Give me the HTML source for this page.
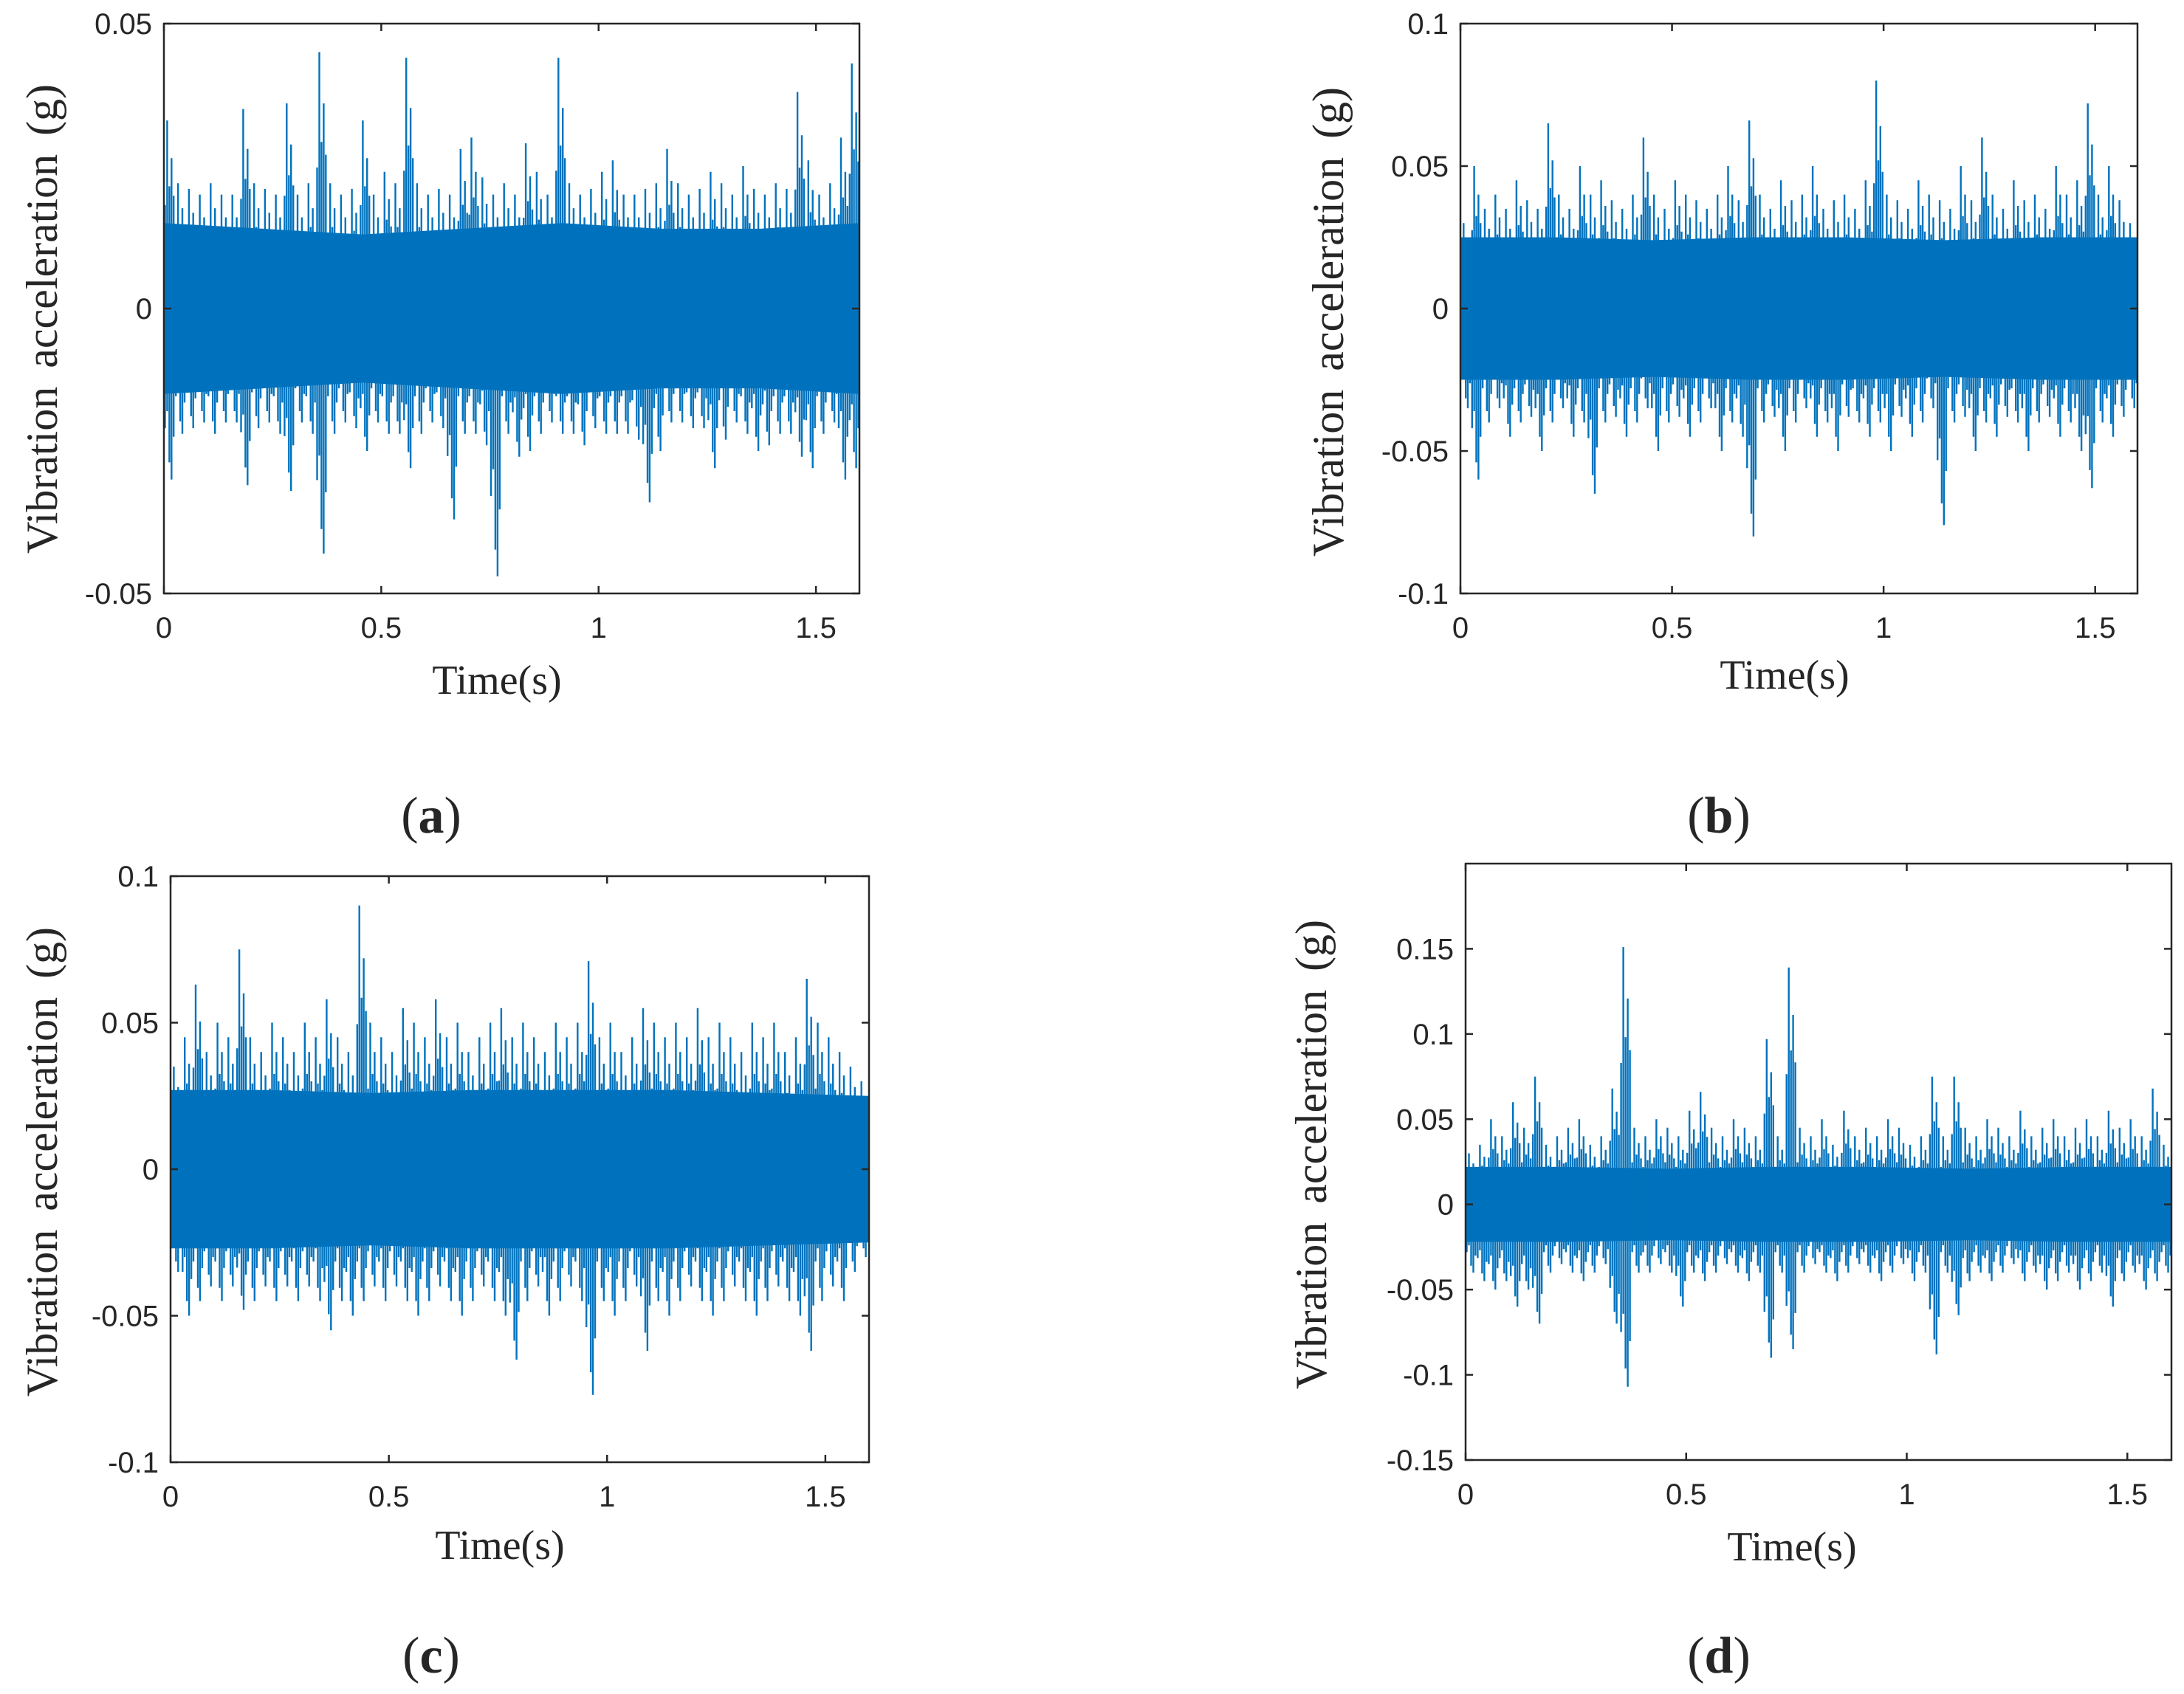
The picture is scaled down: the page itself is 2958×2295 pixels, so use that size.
<!DOCTYPE html>
<html><head><meta charset="utf-8"><style>
body{margin:0;background:#fff}
svg{display:block}
text{fill:#262626}
</style></head><body>
<svg id="fig" width="2958" height="2295" viewBox="0 0 2958 2295" xmlns="http://www.w3.org/2000/svg"></svg>
<script>
const NS="http://www.w3.org/2000/svg";
const svg=document.getElementById('fig');
const xTicks=[0,0.5,1,1.5];
const xTickLabels=["0","0.5","1","1.5"];
const binWidth=0.025;
const aHi=[0.033,0.022,0.021,0.02,0.022,0.02,0.02,0.035,0.022,0.021,0.02,0.036,0.02,0.022,0.045,0.022,0.02,0.021,0.033,0.02,0.024,0.022,0.044,0.022,0.02,0.021,0.02,0.028,0.03,0.023,0.02,0.022,0.02,0.029,0.024,0.02,0.044,0.022,0.02,0.021,0.024,0.026,0.02,0.02,0.021,0.022,0.028,0.022,0.02,0.021,0.024,0.022,0.02,0.025,0.021,0.02,0.022,0.021,0.038,0.026,0.02,0.022,0.03,0.043];
const aLo=[-0.03,-0.022,-0.021,-0.02,-0.022,-0.02,-0.02,-0.031,-0.021,-0.02,-0.022,-0.032,-0.02,-0.022,-0.043,-0.022,-0.02,-0.021,-0.025,-0.02,-0.022,-0.022,-0.028,-0.022,-0.02,-0.021,-0.037,-0.022,-0.022,-0.024,-0.047,-0.022,-0.026,-0.025,-0.022,-0.02,-0.022,-0.022,-0.024,-0.021,-0.022,-0.022,-0.022,-0.023,-0.034,-0.025,-0.02,-0.02,-0.021,-0.021,-0.028,-0.023,-0.02,-0.022,-0.025,-0.024,-0.022,-0.022,-0.026,-0.028,-0.022,-0.02,-0.03,-0.028];
const aCore=[0.015,0.014,0.013,0.014,0.015,0.014,0.014,0.015];
const bHi=[0.03,0.05,0.035,0.04,0.035,0.045,0.038,0.035,0.065,0.04,0.035,0.05,0.04,0.045,0.038,0.035,0.04,0.06,0.04,0.035,0.045,0.04,0.038,0.035,0.04,0.05,0.038,0.066,0.04,0.035,0.045,0.038,0.04,0.05,0.035,0.038,0.04,0.035,0.045,0.08,0.04,0.038,0.035,0.045,0.04,0.038,0.035,0.05,0.038,0.06,0.04,0.035,0.045,0.038,0.04,0.035,0.05,0.04,0.045,0.072,0.04,0.05,0.038,0.03];
const bLo=[-0.035,-0.06,-0.04,-0.035,-0.045,-0.04,-0.038,-0.05,-0.04,-0.035,-0.045,-0.04,-0.065,-0.04,-0.038,-0.045,-0.04,-0.035,-0.05,-0.04,-0.038,-0.045,-0.04,-0.035,-0.05,-0.04,-0.045,-0.08,-0.04,-0.038,-0.05,-0.04,-0.035,-0.045,-0.04,-0.05,-0.038,-0.04,-0.045,-0.04,-0.05,-0.038,-0.045,-0.04,-0.035,-0.076,-0.04,-0.038,-0.05,-0.04,-0.045,-0.038,-0.04,-0.05,-0.04,-0.038,-0.045,-0.04,-0.05,-0.063,-0.04,-0.045,-0.038,-0.035];
const bCore=[0.025,0.025,0.024,0.025,0.025,0.024,0.025,0.025];
const cHi=[0.035,0.045,0.063,0.04,0.05,0.045,0.075,0.045,0.04,0.05,0.045,0.04,0.05,0.045,0.058,0.045,0.04,0.09,0.05,0.045,0.04,0.055,0.05,0.045,0.058,0.045,0.05,0.04,0.045,0.05,0.055,0.045,0.05,0.045,0.04,0.05,0.045,0.05,0.071,0.045,0.05,0.04,0.045,0.055,0.05,0.045,0.05,0.045,0.055,0.045,0.05,0.045,0.04,0.05,0.045,0.05,0.04,0.045,0.065,0.05,0.045,0.04,0.035,0.03];
const cLo=[-0.035,-0.05,-0.045,-0.04,-0.045,-0.04,-0.048,-0.045,-0.04,-0.045,-0.04,-0.045,-0.04,-0.045,-0.055,-0.045,-0.05,-0.045,-0.04,-0.045,-0.04,-0.045,-0.05,-0.045,-0.04,-0.045,-0.05,-0.045,-0.04,-0.045,-0.05,-0.065,-0.045,-0.04,-0.05,-0.045,-0.04,-0.045,-0.077,-0.045,-0.05,-0.045,-0.04,-0.062,-0.045,-0.05,-0.045,-0.04,-0.045,-0.05,-0.045,-0.04,-0.045,-0.05,-0.045,-0.04,-0.045,-0.05,-0.062,-0.045,-0.04,-0.045,-0.035,-0.03];
const cCore=[0.027,0.027,0.026,0.027,0.027,0.027,0.026,0.025];
const dHi=[0.03,0.035,0.05,0.04,0.06,0.045,0.075,0.035,0.04,0.045,0.05,0.035,0.04,0.068,0.151,0.045,0.04,0.05,0.045,0.04,0.055,0.066,0.045,0.04,0.05,0.045,0.04,0.097,0.04,0.139,0.045,0.04,0.05,0.035,0.055,0.04,0.045,0.04,0.05,0.045,0.035,0.04,0.075,0.04,0.075,0.045,0.04,0.05,0.045,0.04,0.055,0.04,0.045,0.05,0.04,0.045,0.05,0.04,0.055,0.045,0.05,0.04,0.068,0.035];
const dLo=[-0.04,-0.045,-0.05,-0.045,-0.06,-0.05,-0.07,-0.04,-0.035,-0.04,-0.045,-0.04,-0.035,-0.07,-0.107,-0.04,-0.04,-0.035,-0.04,-0.06,-0.04,-0.045,-0.04,-0.035,-0.04,-0.045,-0.04,-0.09,-0.04,-0.085,-0.04,-0.035,-0.04,-0.045,-0.04,-0.035,-0.04,-0.045,-0.04,-0.035,-0.045,-0.04,-0.088,-0.04,-0.065,-0.045,-0.04,-0.045,-0.04,-0.035,-0.045,-0.04,-0.05,-0.045,-0.04,-0.05,-0.045,-0.04,-0.06,-0.045,-0.04,-0.05,-0.045,-0.04];
const dCore=[0.022,0.022,0.021,0.022,0.022,0.021,0.022,0.022];
const aYTicks=[-0.05,0,0.05]; const aYLabels=["-0.05","0","0.05"];
const bYTicks=[-0.1,-0.05,0,0.05,0.1]; const bYLabels=["-0.1","-0.05","0","0.05","0.1"];
const cYTicks=[-0.1,-0.05,0,0.05,0.1]; const cYLabels=["-0.1","-0.05","0","0.05","0.1"];
const dYTicks=[-0.15,-0.1,-0.05,0,0.05,0.1,0.15]; const dYLabels=["-0.15","-0.1","-0.05","0","0.05","0.1","0.15"];

function mk(tag,attrs,parent){const e=document.createElementNS(NS,tag);for(const k in attrs)e.setAttribute(k,attrs[k]);(parent||svg).appendChild(e);return e;}

const panels=[
 {id:'a',L:222,R:1164,T:32,B:804,ymin:-0.05,ymax:0.05,hi:aHi,lo:aLo,core:aCore,yt:aYTicks,yl:aYLabels,ylx:63,yly:432,tx:673,ty:940,cx:584,cy:1128},
 {id:'b',L:1978,R:2895,T:32,B:804,ymin:-0.1,ymax:0.1,hi:bHi,lo:bLo,core:bCore,yt:bYTicks,yl:bYLabels,ylx:1805,yly:436,tx:2417,ty:933,cx:2328,cy:1128},
 {id:'c',L:231,R:1177,T:1187,B:1981,ymin:-0.1,ymax:0.1,hi:cHi,lo:cLo,core:cCore,yt:cYTicks,yl:cYLabels,ylx:63,yly:1574,tx:677,ty:2112,cx:584,cy:2266},
 {id:'d',L:1985,R:2941,T:1170,B:1978,ymin:-0.15,ymax:0.2,hi:dHi,lo:dLo,core:dCore,yt:dYTicks,yl:dYLabels,ylx:1782,yly:1564,tx:2427,ty:2114,cx:2328,cy:2266}
];

panels.forEach(p=>{
 const g=mk('g',{});
 
 
 const xs=t=>p.L+(t/1.6)*(p.R-p.L);
 const ys=v=>p.B-(v-p.ymin)/(p.ymax-p.ymin)*(p.B-p.T);
 const sg=mk('g',{stroke:'#0072bd','stroke-width':2.4,fill:'none'},g);
 
 
 const n=p.core.length; let pts=[];
 for(let i=0;i<n;i++){pts.push(xs(1.6*i/(n-1))+','+ys(p.core[i]));}
 for(let i=n-1;i>=0;i--){pts.push(xs(1.6*i/(n-1))+','+ys(-p.core[i]));}
 const band=mk('polygon',{points:pts.join(' '),fill:'#0072bd',stroke:'none'},sg);
 
 
 let d='';
 p.hi.forEach((h,i)=>{
  const l=p.lo[i], t0=i*binWidth;
  const fr=[[0.1,0.55,0.7],[0.3,1,0.6],[0.5,0.65,0.9],[0.7,0.8,1],[0.9,0.6,0.75]];
  fr.forEach(f=>{
   const x=xs(Math.min(1.6,t0+f[0]*binWidth));
   d+='M'+x.toFixed(1)+','+ys(h*f[1]).toFixed(1)+'L'+x.toFixed(1)+','+ys(l*f[2]).toFixed(1);
  });
 });
 const sp=mk('path',{d:d},sg);
 
 
 const fr=mk('rect',{x:p.L,y:p.T,width:p.R-p.L,height:p.B-p.T,fill:'none',stroke:'#262626','stroke-width':2.5},g);
 
 
 const tl=10;
 xTicks.forEach((t,i)=>{
  const x=xs(t);
  mk('line',{x1:x,y1:p.B,x2:x,y2:p.B-tl,stroke:'#262626','stroke-width':2.5},g);
  mk('line',{x1:x,y1:p.T,x2:x,y2:p.T+tl,stroke:'#262626','stroke-width':2.5},g);
  const tx=mk('text',{x:x,y:p.B+60,'text-anchor':'middle','font-family':'Liberation Sans, sans-serif','font-size':40},g);
  tx.textContent=xTickLabels[i];
  
  
 });
 p.yt.forEach((v,i)=>{
  const y=ys(v);
  mk('line',{x1:p.L,y1:y,x2:p.L+tl,y2:y,stroke:'#262626','stroke-width':2.5},g);
  mk('line',{x1:p.R,y1:y,x2:p.R-tl,y2:y,stroke:'#262626','stroke-width':2.5},g);
  const tx=mk('text',{x:p.L-16,y:y+14,'text-anchor':'end','font-family':'Liberation Sans, sans-serif','font-size':40},g);
  tx.textContent=p.yl[i];
  
  
 });
 const xt=mk('text',{x:p.tx,y:p.ty,'text-anchor':'middle','font-family':'Liberation Serif, serif','font-size':56},g);
 xt.textContent='Time(s)';
 
 
 const yt=mk('text',{x:p.ylx,y:p.yly,'text-anchor':'middle','font-family':'Liberation Serif, serif','font-size':60,transform:'rotate(-90 '+p.ylx+' '+p.yly+')','dominant-baseline':'middle','word-spacing':'10'},g);
 yt.textContent='Vibration acceleration (g)';
 
 
 const cap=mk('text',{x:p.cx,y:p.cy,'text-anchor':'middle','font-family':'Liberation Serif, serif','font-size':70},g);
 cap.innerHTML='(<tspan font-weight="bold">'+p.id+'</tspan>)';
 
 
});
</script>
</body></html>
